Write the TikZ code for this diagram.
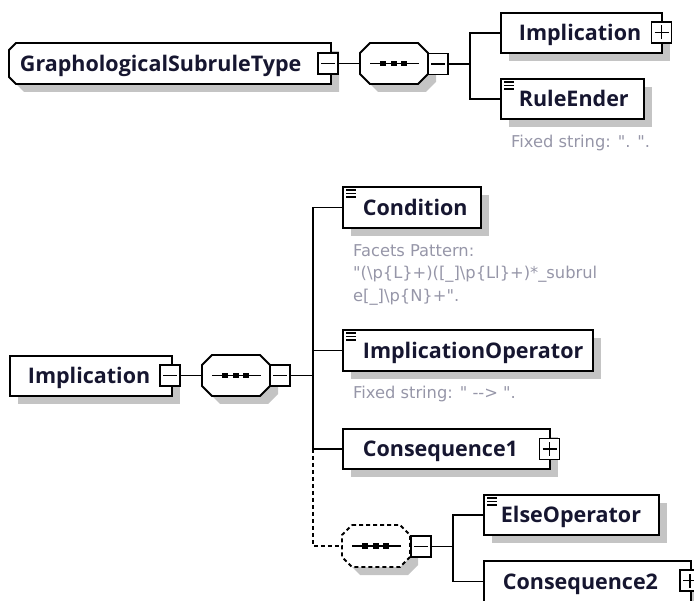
\documentclass[tikz,border=0pt]{standalone}
\usepackage{fontspec}
\setmainfont{DejaVu Sans}[Ligatures=TeXOff]
\newfontfamily\lblfam{Open Sans}[Ligatures=TeXOff]
\usetikzlibrary{shadows}
\pgfdeclarelayer{bg}
\pgfsetlayers{bg,main}
\definecolor{lbl}{RGB}{22,22,48}
\definecolor{greytxt}{RGB}{150,150,168}
\definecolor{shadowc}{RGB}{196,196,196}
\newcommand\lblfont{\lblfam\fontsize{21.5}{24}\selectfont\bfseries}
\newcommand\notefont{\fontsize{16.3}{22.5}\selectfont}
\newcommand\simpleicon[1]{%
  \foreach \dy in {4,7.5,11}{\draw[line width=1.1pt] ([xshift=4pt,yshift=-\dy pt]#1.north west) -- ++(9.5,0);}}
\newcommand\seqdots[1]{%
  \draw[line width=1.3pt] ([xshift=-24pt]#1.center) -- ([xshift=25pt]#1.center);
  \foreach \dx in {-11,0,10}{\fill ([xshift=\dx pt]#1.center) +(-2.6,-2.6) rectangle +(2.6,2.6);}}
% chamfered outline of a node: node, left chamfer, right chamfer
\newcommand\chpath[3]{([xshift=#2]#1.north west) -- ([xshift=-#3]#1.north east) -- ([yshift=-#3]#1.north east) -- ([yshift=#3]#1.south east) -- ([xshift=-#3]#1.south east) -- ([xshift=#2]#1.south west) -- ([yshift=#2]#1.south west) -- ([yshift=-#2]#1.north west) -- cycle}
\newcommand\chshape[4]{%
  \begin{pgfonlayer}{bg}
    \fill[shadowc, transform canvas={xshift=8pt,yshift=-8pt}] \chpath{#1}{#2}{#3};
    \draw[fill=white, line width=1.8pt, line join=miter, #4] \chpath{#1}{#2}{#3};
  \end{pgfonlayer}}
\begin{document}
\begin{tikzpicture}[x=1pt,y=-1pt,
  shad/.style={general shadow={fill=shadowc, shadow xshift=8pt, shadow yshift=-8pt}},
  elem/.style={shad, draw=black, line width=1.8pt, fill=white, rectangle,
    inner xsep=0pt, inner ysep=0pt, minimum height=40pt, text height=15.4pt, text depth=0pt,
    align=left, font=\lblfont, text=lbl, anchor=north west},
  chnode/.style={rectangle, draw=none, fill=none, inner sep=0pt, outer sep=0pt, anchor=north west},
  pm/.style={draw=black, line width=1.5pt, fill=white, minimum width=20pt, minimum height=21pt, inner sep=0pt},
  minusbox/.style={pm, path picture={\draw[line width=1.4pt] ([xshift=-7pt]path picture bounding box.center) -- ([xshift=7pt]path picture bounding box.center);}},
  plusbox/.style={pm, path picture={\draw[line width=1.4pt] ([xshift=-7pt]path picture bounding box.center) -- ([xshift=7pt]path picture bounding box.center);
      \draw[line width=1.4pt] ([yshift=-7pt]path picture bounding box.center) -- ([yshift=7pt]path picture bounding box.center);}},
  conn/.style={draw=black, line width=1.5pt},
  dconn/.style={draw=black, line width=1.5pt, dash pattern=on 4pt off 3pt},
  note/.style={font=\notefont, text=greytxt, inner sep=0pt}
]
\useasboundingbox (0,0) rectangle (694,601);
\path[clip] (0,0) rectangle (694,601);

% ---------- top diagram ----------
\node[chnode, minimum width=322pt, minimum height=41pt, text width=322pt, align=left,
  font=\lblfont, text=lbl, text height=15.4pt, text depth=0pt]
  (gst) at (9,43) {\hspace*{11pt}GraphologicalSubruleType};
\chshape{gst}{7pt}{0pt}{}
\node[minusbox] (gstm) at (328,63.5) {};

\node[chnode, minimum width=68pt, minimum height=41pt] (seq1) at (360,43) {};
\chshape{seq1}{10pt}{10pt}{}
\seqdots{seq1}
\node[minusbox] (seq1m) at (438,64) {};

\node[elem, text width=161pt] (impl1) at (500,12) {\hspace*{18pt}Implication};
\node[plusbox] (impl1p) at (661.5,32.5) {};

\node[elem, text width=143pt] (re) at (500,78) {\hspace*{18pt}RuleEnder};
\simpleicon{re}
\node[note, anchor=base west] (fs1) at (511,148) {Fixed string: ". ".};

\coordinate (b1) at (470,64);
\draw[conn] (gstm.east) -- (seq1.west);
\draw[conn] (seq1m.east) -- (b1);
\draw[conn] (impl1.west) -| (b1) |- (re.west);

% ---------- bottom diagram ----------
\node[elem, text width=162pt] (impl2) at (9,355) {\hspace*{18pt}Implication};
\node[minusbox] (impl2m) at (170,375.5) {};

\node[chnode, minimum width=68pt, minimum height=41pt] (seq2) at (202,355) {};
\chshape{seq2}{10pt}{10pt}{}
\seqdots{seq2}
\node[minusbox] (seq2m) at (280,375.5) {};

\node[elem, minimum height=41pt, text width=138pt] (cond) at (342,186) {\hspace*{20pt}Condition};
\simpleicon{cond}
\node[note, anchor=north west, align=left] (facets) at (353,244)
  {Facets Pattern:\\"(\textbackslash p\{L\}+)([\_]\textbackslash p\{Ll\}+)*\_subrul\\e[\_]\textbackslash p\{N\}+".};

\node[elem, minimum height=41pt, text width=250pt] (implop) at (342,329) {\hspace*{20pt}ImplicationOperator};
\simpleicon{implop}
\node[note, anchor=base west] (fs2) at (353,399) {Fixed string: " --> ".};

\node[elem, text width=207pt] (cons1) at (342,428) {\hspace*{20pt}Consequence1};
\node[plusbox] (cons1p) at (549.5,449) {};

\node[chnode, minimum width=68pt, minimum height=42pt] (seq3) at (342,525) {};
\chshape{seq3}{10pt}{10pt}{dash pattern=on 4pt off 3pt}
\seqdots{seq3}
\node[minusbox] (seq3m) at (421,546.5) {};

\node[elem, text width=175pt] (elseop) at (483,494) {\hspace*{17pt}ElseOperator};
\simpleicon{elseop}

\node[elem, minimum height=41pt, text width=207pt] (cons2) at (483,560) {\hspace*{19pt}Consequence2};
\node[plusbox] (cons2p) at (690,580.5) {};

\coordinate (b2) at (313,375.5);
\coordinate (b3) at (453,546.5);
\draw[conn] (impl2m.east) -- (seq2.west);
\draw[conn] (seq2m.east) -- (b2);
\draw[conn] (cond.west) -| (b2) |- (cons1.west);
\draw[conn] (implop.west) -- (implop.west -| b2);
\draw[dconn] (cons1.west -| b2) |- (seq3.west);
\draw[conn] (seq3m.east) -- (b3);
\draw[conn] (elseop.west) -| (b3) |- (cons2.west);
\end{tikzpicture}
\end{document}
